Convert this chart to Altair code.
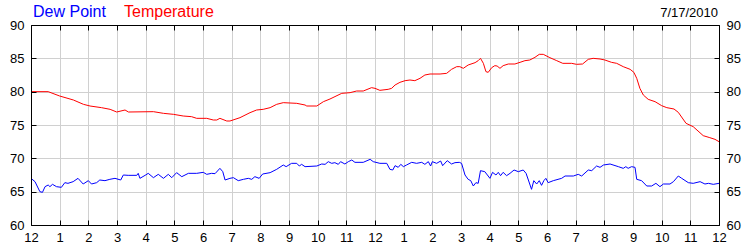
import altair as alt
import pandas as pd

# ---- data ----
temp_hours = [0.0, 0.6, 1.0, 1.48, 1.83, 2.06, 2.46, 2.76, 2.99, 3.28, 3.40, 4.27, 4.62, 4.97, 5.31,
              5.6, 5.78, 6.13, 6.36, 6.48, 6.59, 6.83, 6.94, 7.29, 7.64, 7.87, 8.1, 8.34, 8.57, 8.8,
              9.27, 9.56, 9.62, 9.97, 10.2, 10.43, 10.84, 11.13, 11.36, 11.59, 11.88, 12.0, 12.17,
              12.46, 12.58, 12.7, 12.87, 13.05, 13.22, 13.39, 13.57, 13.74, 13.92, 14.27, 14.5,
              14.67, 14.85, 14.96, 15.08, 15.25, 15.49, 15.6, 15.68, 15.78, 15.87, 15.95, 16.07,
              16.18, 16.26, 16.36, 16.47, 16.65, 16.88, 17.06, 17.23, 17.4, 17.58, 17.73, 17.87,
              18.1, 18.34, 18.55, 18.86, 19.03, 19.24, 19.44, 19.61, 19.85, 20.02, 20.25, 20.43,
              20.66, 20.9, 21.03, 21.13, 21.24, 21.36, 21.53, 21.77, 22.0, 22.18, 22.43, 22.58,
              22.85, 23.1, 23.45, 23.68, 23.86, 24.0]
temp_values = [80.0, 80.0, 79.35, 78.75, 78.1, 77.85, 77.6, 77.35, 76.95, 77.25, 76.95, 77.0, 76.75,
               76.6, 76.35, 76.25, 76.0, 76.0, 75.75, 75.75, 76.0, 75.6, 75.6, 76.1, 76.85, 77.25,
               77.35, 77.6, 78.1, 78.35, 78.25, 78.0, 77.85, 77.85, 78.5, 78.9, 79.75, 79.85, 80.1,
               80.1, 80.6, 80.5, 80.2, 80.35, 80.5, 81.0, 81.4, 81.65, 81.75, 81.65, 82.0, 82.5,
               82.65, 82.65, 82.75, 83.35, 83.75, 83.75, 83.5, 84.0, 84.35, 84.65, 85.0, 84.25,
               83.0, 82.9, 83.6, 83.9, 83.85, 83.5, 83.9, 84.15, 84.15, 84.4, 84.65, 84.75, 85.15,
               85.6, 85.6, 85.1, 84.65, 84.25, 84.25, 84.1, 84.15, 84.85, 85.0, 84.9, 84.75, 84.4,
               84.25, 83.75, 83.35, 82.9, 82.0, 80.5, 79.5, 78.85, 78.5, 77.9, 77.6, 77.4, 76.9,
               75.25, 74.75, 73.4, 73.1, 72.85, 72.5]

dew_hours = [0.0, 0.14, 0.31, 0.4, 0.49, 0.6, 0.66, 0.75, 0.89, 1.06, 1.18, 1.29, 1.47, 1.64, 1.82,
             2.0, 2.11, 2.29, 2.4, 2.58, 2.75, 2.93, 3.13, 3.22, 3.39, 3.69, 3.74, 3.8, 3.98, 4.09,
             4.27, 4.44, 4.62, 4.79, 4.91, 5.08, 5.26, 5.49, 5.78, 6.01, 6.13, 6.3, 6.42, 6.59,
             6.69, 6.77, 6.94, 7.06, 7.23, 7.41, 7.58, 7.7, 7.81, 7.96, 8.08, 8.34, 8.57, 8.8, 8.9,
             9.09, 9.27, 9.36, 9.44, 9.56, 9.97, 10.14, 10.26, 10.37, 10.49, 10.6, 10.72, 10.8,
             10.95, 11.07, 11.19, 11.3, 11.59, 11.83, 11.94, 12.17, 12.41, 12.52, 12.62, 12.7,
             12.81, 12.9, 12.99, 13.1, 13.28, 13.45, 13.63, 13.74, 13.86, 13.94, 14.0, 14.15,
             14.29, 14.36, 14.52, 14.67, 14.79, 14.94, 15.02, 15.14, 15.25, 15.34, 15.43, 15.52,
             15.6, 15.68, 15.83, 16.01, 16.1, 16.22, 16.3, 16.38, 16.47, 16.59, 16.71, 16.85,
             17.0, 17.17, 17.27, 17.35, 17.46, 17.54, 17.64, 17.73, 17.81, 17.89, 17.96, 18.04,
             18.22, 18.51, 18.63, 18.92, 19.09, 19.21, 19.44, 19.56, 19.73, 19.85, 19.97, 20.2,
             20.49, 20.66, 20.75, 20.83, 20.95, 21.07, 21.13, 21.3, 21.48, 21.65, 21.8, 21.94,
             22.06, 22.29, 22.41, 22.58, 22.7, 22.93, 23.1, 23.34, 23.51, 23.63, 23.8, 24.0]
dew_values = [67.0, 66.5, 65.0, 64.9, 65.75, 66.0, 65.75, 66.1, 65.75, 65.65, 66.35, 66.25, 66.5,
              67.0, 66.15, 66.65, 66.15, 66.35, 66.75, 66.65, 66.85, 67.0, 66.75, 67.5, 67.45,
              67.45, 67.75, 67.0, 67.45, 67.75, 67.1, 67.6, 67.0, 67.6, 67.1, 67.85, 67.25, 67.75,
              67.75, 67.9, 67.6, 67.75, 67.7, 68.5, 68.0, 66.75, 67.0, 67.1, 66.65, 66.85, 67.0,
              66.85, 67.25, 67.0, 67.65, 67.85, 68.35, 69.0, 68.75, 69.25, 69.25, 68.85, 69.1,
              68.75, 68.85, 69.15, 69.1, 69.5, 69.25, 69.35, 69.1, 69.5, 69.15, 69.5, 69.75, 69.4,
              69.4, 69.85, 69.5, 69.25, 69.25, 68.35, 68.25, 68.9, 68.65, 69.1, 68.75, 69.0, 69.4,
              69.25, 69.4, 69.1, 69.5, 68.85, 69.5, 69.25, 69.6, 68.9, 69.65, 69.15, 69.35, 69.4,
              69.25, 67.5, 66.85, 66.65, 65.85, 66.35, 66.25, 68.15, 68.0, 67.0, 67.9, 67.5, 67.9,
              67.4, 67.9, 67.4, 67.75, 68.25, 68.0, 68.25, 67.75, 66.75, 65.35, 66.65, 66.15,
              66.65, 65.95, 66.65, 67.0, 66.35, 66.65, 67.0, 67.35, 67.35, 67.6, 67.35, 68.25,
              68.15, 68.85, 68.65, 69.0, 69.15, 68.75, 68.5, 68.75, 68.5, 68.75, 68.65, 66.85,
              66.65, 65.85, 65.85, 66.25, 65.75, 66.15, 66.15, 66.5, 67.35, 67.0, 66.35, 66.25,
              66.5, 66.15, 66.25, 66.1, 66.25]

series_names = ["Dew Point", "Temperature"]
series_colors = ["#0000FF", "#FF0000"]
hour_ticks = list(range(0, 25))
value_ticks = [60, 65, 70, 75, 80, 85, 90]
date_label = "7/17/2010"

df = pd.concat([
    pd.DataFrame({"hour": dew_hours, "value": dew_values, "series": series_names[0]}),
    pd.DataFrame({"hour": temp_hours, "value": temp_values, "series": series_names[1]}),
], ignore_index=True)

W, H = 688, 200
FONT = "Liberation Sans"
xs = alt.Scale(domain=[0, 24], nice=False, zero=False)
ys = alt.Scale(domain=[60, 90], nice=False, zero=False)
color = alt.Color("series:N", scale=alt.Scale(domain=series_names, range=series_colors), legend=None)
hour_label = "datum.value % 12 == 0 ? '12' : '' + (datum.value % 12)"

def xe(axis):
    return alt.X("hour:Q", scale=xs, axis=axis)

def ye(axis):
    return alt.Y("value:Q", scale=ys, axis=axis)

tick_axis = dict(labels=False, ticks=True, tickSize=5, tickColor="black", domain=True,
                 domainColor="black", grid=False, title=None, zindex=1)

base = alt.Chart(df)

lines = base.mark_line(strokeWidth=1).encode(
    x=xe(alt.Axis(orient="bottom", values=hour_ticks, labelExpr=hour_label, grid=True,
                  ticks=False, tickSize=0, domain=False, labelPadding=6, labelFlush=False,
                  labelOverlap=False, title=None)),
    y=ye(alt.Axis(orient="left", values=value_ticks, grid=True, ticks=False, tickSize=0,
                  domain=False, labelPadding=7, labelFlush=False, labelOverlap=False, title=None)),
    color=color,
)

ax2 = base.mark_line(strokeOpacity=0).encode(
    x=xe(alt.Axis(orient="top", offset=-H, values=hour_ticks, **tick_axis)),
    y=ye(alt.Axis(orient="right", values=value_ticks, grid=False, ticks=False, tickSize=0,
                  domain=False, labelPadding=7, labelFlush=False, labelOverlap=False, title=None)),
    color=color,
)

ax3 = base.mark_line(strokeOpacity=0).encode(
    x=xe(alt.Axis(orient="bottom", offset=-H, values=hour_ticks, **tick_axis)),
    y=ye(alt.Axis(orient="right", offset=-W, values=value_ticks, **tick_axis)),
    color=color,
)

ax4 = base.mark_line(strokeOpacity=0).encode(
    x=alt.X("hour:Q", scale=xs, axis=None),
    y=ye(alt.Axis(orient="left", offset=-W, values=value_ticks, **tick_axis)),
    color=color,
)

def label(text, col, xpos, align, size, ypos):
    return alt.Chart(pd.DataFrame({"t": [text]})).mark_text(
        align=align, baseline="alphabetic", font=FONT, fontSize=size, color=col
    ).encode(text="t:N", x=alt.value(xpos), y=alt.value(ypos))

t1 = label(series_names[0], series_colors[0], 2, "left", 16, -8)
t2 = label(series_names[1], series_colors[1], 93, "left", 16, -8)
t3 = label(date_label, "black", 687, "right", 13, -8.5)

chart = alt.layer(lines, ax2, ax3, ax4, t1, t2, t3).properties(
    width=W, height=H,
    padding={"left": 31, "right": 31, "top": 25, "bottom": 25},
    autosize=alt.AutoSizeParams(type="none"),
).resolve_axis(x="independent", y="independent").configure_view(stroke=None).configure_axis(
    labelFont=FONT, labelFontSize=13, labelColor="black", gridColor="#D0D0D0", gridWidth=1,
)

chart.save("out.html", embed_options={"renderer": "svg", "actions": False})
